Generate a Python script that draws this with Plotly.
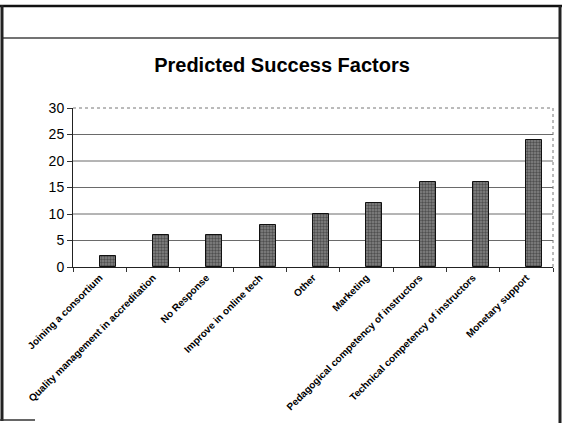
import plotly.graph_objects as go

categories = [
    "Joining a consortium",
    "Quality management in accreditation",
    "No Response",
    "Improve in online tech",
    "Other",
    "Marketing",
    "Pedagogical competency of instructors",
    "Technical competency of instructors",
    "Monetary support",
]
values = [2, 6, 6, 8, 10, 12, 16, 16, 24]
y_ticks = [0, 5, 10, 15, 20, 25, 30]
title_text = "Predicted Success Factors"

W, H = 564, 423
L, R, T, B = 73, 11, 108, 156
PW, PH = W - L - R, H - T - B


def px_x(px):
    return (px - L) / PW


def px_y(py):
    return (H - B - py) / PH


fig = go.Figure()
fig.add_trace(go.Bar(
    x=categories,
    y=values,
    width=0.3,
    offset=0,
    marker=dict(
        color="#707070",
        line=dict(color="#111111", width=1),
        pattern=dict(shape=".", fgcolor="#1a1a1a", bgcolor="#858585", size=3, solidity=0.5),
    ),
    showlegend=False,
))

shapes = []
# gridlines (data coordinates)
for v in y_ticks[1:-1]:
    shapes.append(dict(type="line", xref="paper", yref="y", x0=0, x1=1, y0=v, y1=v,
                       line=dict(color="#6a6a6a", width=1), layer="below"))
# dotted plot border (top and right)
shapes.append(dict(type="line", xref="paper", yref="paper", x0=0, x1=1, y0=1, y1=1,
                   line=dict(color="#777777", width=1, dash="dot")))
shapes.append(dict(type="line", xref="paper", yref="paper", x0=1, x1=1, y0=0, y1=1,
                   line=dict(color="#777777", width=1, dash="dot")))
# slide frame
frame = [
    (0, 6, 562, 6, 2.5, "#111111"),
    (3, 38, 560, 38, 1.5, "#444444"),
    (2, 5, 2, 421, 3, "#222222"),
    (560, 6, 560, 423, 3, "#222222"),
    (0, 420, 35, 420, 1.5, "#333333"),
]
for x0, y0, x1, y1, w, c in frame:
    shapes.append(dict(type="line", xref="paper", yref="paper",
                       x0=px_x(x0), x1=px_x(x1), y0=px_y(y0), y1=px_y(y1),
                       line=dict(color=c, width=w)))

fig.update_layout(
    width=W, height=H,
    margin=dict(l=L, r=R, t=T, b=B, autoexpand=False),
    paper_bgcolor="white",
    plot_bgcolor="white",
    font=dict(family="Liberation Sans, Arial, sans-serif", color="black"),
    title=dict(text="<b>" + title_text + "</b>", x=0.5, xref="container", xanchor="center",
               y=1 - 65 / H, yref="container", yanchor="middle",
               font=dict(size=20, color="black")),
    shapes=shapes,
    bargap=0,
)
fig.update_xaxes(
    type="category",
    range=[-0.5, 8.5],
    tickangle=-45,
    tickfont=dict(size=10, color="black", weight="bold"),
    showline=True, linecolor="#222222", linewidth=1,
    ticks="outside", ticklen=4, tickcolor="#333333", tickson="boundaries",
    showgrid=False,
)
fig.update_yaxes(
    range=[0, 30],
    tickvals=y_ticks,
    tickfont=dict(size=14, color="black"),
    showline=True, linecolor="#222222", linewidth=1,
    ticks="outside", ticklen=5, tickcolor="#333333",
    showgrid=False, zeroline=False,
)
fig.write_html("out.html")
